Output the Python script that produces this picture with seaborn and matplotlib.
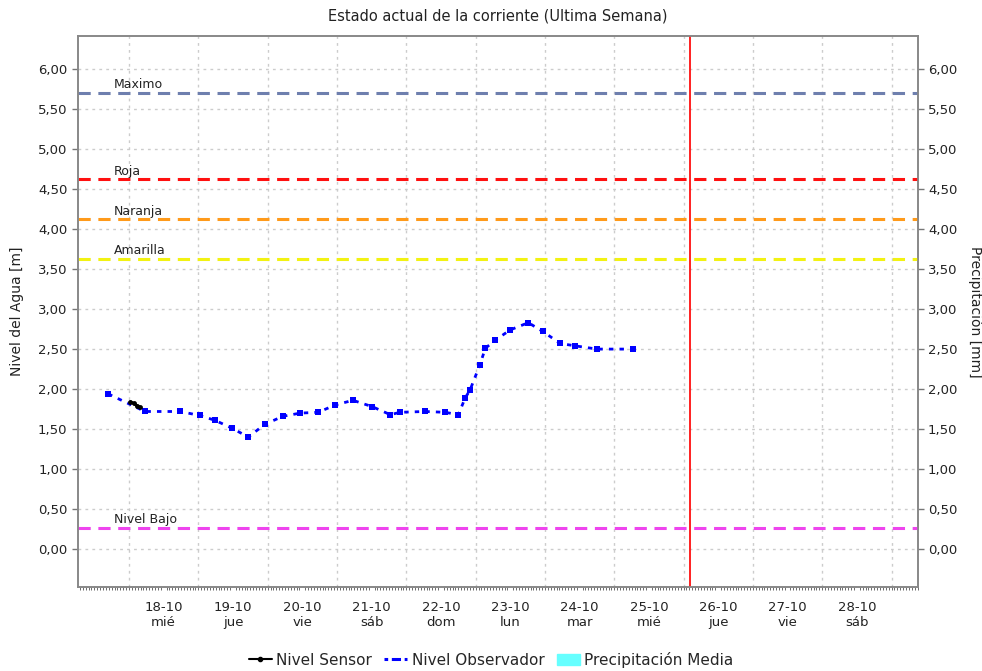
import pandas as pd
import numpy as np
import matplotlib
matplotlib.use("Agg")
import matplotlib.pyplot as plt
import matplotlib.dates as mdates
from matplotlib.lines import Line2D
from matplotlib.patches import Patch
from matplotlib.ticker import FuncFormatter, MultipleLocator
import seaborn as sns

# datos (tiempo en dias desde 18-10 00:00)
obs_days = [-0.30, 0.23, 0.74, 1.02, 1.24, 1.49, 1.72, 1.96, 2.22, 2.47, 2.73, 2.97,
            3.23, 3.51, 3.77, 3.91, 4.27, 4.56, 4.75, 4.85, 4.92, 5.06, 5.14, 5.28,
            5.50, 5.76, 5.97, 6.22, 6.44, 6.75, 7.27]
obs_nivel = [1.94, 1.72, 1.72, 1.67, 1.61, 1.51, 1.40, 1.56, 1.66, 1.70, 1.71, 1.80,
             1.86, 1.78, 1.68, 1.71, 1.72, 1.71, 1.68, 1.89, 1.99, 2.30, 2.51, 2.61,
             2.74, 2.83, 2.72, 2.57, 2.54, 2.50, 2.50]
sensor_days = [0.02, 0.07, 0.12, 0.16]
sensor_nivel = [1.84, 1.82, 1.79, 1.77]

umbrales = ["Maximo", "Roja", "Naranja", "Amarilla", "Nivel Bajo"]
umbral_val = [5.70, 4.62, 4.12, 3.63, 0.27]
umbral_col = ["#6e7fae", "#ff1010", "#ff9a1a", "#f2f212", "#ee44ee"]

dias_es = ["lun", "mar", "mié", "jue", "vie", "sáb", "dom"]

base = pd.Timestamp("2023-10-18")
df_obs = pd.DataFrame({"fecha": base + pd.to_timedelta(obs_days, unit="D"), "nivel": obs_nivel})
df_sen = pd.DataFrame({"fecha": base + pd.to_timedelta(sensor_days, unit="D"), "nivel": sensor_nivel})
ahora = pd.Timestamp("2023-10-26 02:15")

sns.set_theme(style="white")
plt.rcParams['font.family'] = ['DejaVu Sans']

fig = plt.figure(figsize=(9.82, 6.71), dpi=100)
ax = fig.add_axes([0.0794, 0.125, 0.855, 0.821])

# lineas de umbral
for nom, v, c in zip(umbrales, umbral_val, umbral_col):
    ax.axhline(v, color=c, lw=2.2, ls=(0, (4, 2.5)), zorder=3)

sns.lineplot(data=df_obs, x="fecha", y="nivel", ax=ax, color="#0000ff", lw=2,
             ls=(0, (1.6, 2.2)), marker="s", markersize=4, markeredgewidth=0, zorder=5)
sns.lineplot(data=df_sen, x="fecha", y="nivel", ax=ax, color="black", lw=2.2,
             marker="o", markersize=3.5, markeredgewidth=0, zorder=6)

ax.axvline(ahora, color="#ff2020", lw=1.4, zorder=4)

xmin = pd.Timestamp("2023-10-17 06:20")
xmax = pd.Timestamp("2023-10-29 09:00")
ax.set_xlim(xmin, xmax)
ax.set_ylim(-0.475, 6.41)

# grilla vertical a medianoche
for d in pd.date_range("2023-10-18", "2023-10-29", freq="D"):
    ax.axvline(d, color="#cccccc", lw=1, ls=(0, (2, 3)), zorder=1)
ax.yaxis.set_major_locator(MultipleLocator(0.5))
ax.grid(axis="y", color="#cccccc", lw=1, ls=(0, (2, 3)), zorder=1)
ax.grid(axis="x", visible=False)

# etiquetas del eje x al mediodia
mediodias = pd.date_range("2023-10-18 12:00", "2023-10-28 12:00", freq="D")
ax.set_xticks(mediodias)
ax.set_xticklabels([f"{d.day}-{d.month}\n{dias_es[d.dayofweek]}" for d in mediodias])
ax.xaxis.set_minor_locator(mdates.HourLocator())
ax.tick_params(axis="x", which="major", length=0, labelsize=9.5, pad=10, colors="#222222")
ax.tick_params(axis="x", which="minor", bottom=True, length=2, width=0.6, color="#555555")

fmt = FuncFormatter(lambda v, p: f"{v:.2f}".replace(".", ","))
ax.yaxis.set_major_formatter(fmt)
ax.tick_params(axis="y", left=True, length=4, width=1, color="#777777", labelsize=9.5,
               labelcolor="#222222")

for s in ax.spines.values():
    s.set_color("#888888")
    s.set_linewidth(1.2)

ax2 = ax.twinx()
ax2.set_ylim(ax.get_ylim())
ax2.yaxis.set_major_locator(MultipleLocator(0.5))
ax2.yaxis.set_major_formatter(fmt)
ax2.tick_params(axis="y", right=True, length=4, width=1, color="#777777", labelsize=9.5,
                labelcolor="#222222")
ax2.grid(False)
for s in ax2.spines.values():
    s.set_color("#888888")
    s.set_linewidth(1.2)
ax2.set_ylabel("Precipitación [mm]", rotation=-90, labelpad=18, fontsize=10, color="#222222")

# textos de umbral
for nom, v in zip(umbrales, umbral_val):
    ax.text(pd.Timestamp("2023-10-17 18:50"), v + 0.02, nom, fontsize=9, color="#222222",
            va="bottom", ha="left", zorder=7)

ax.set_xlabel("")
ax.set_ylabel("Nivel del Agua [m]", fontsize=10, labelpad=10, color="#222222")
ax.set_title("Estado actual de la corriente (Ultima Semana)", fontsize=10.5, pad=11,
             color="#222222")

handles = [Line2D([], [], color="black", lw=1.5, marker="o", markersize=3),
           Line2D([], [], color="#0000ff", lw=2.2, ls=(0, (1.2, 1.2, 3, 1.2))),
           Patch(color="#66ffff")]
fig.legend(handles, ["Nivel Sensor", "Nivel Observador", "Precipitación Media"],
           loc="center", bbox_to_anchor=(0.5, 0.017), ncol=3, frameon=False,
           fontsize=11, handlelength=1.5, handletextpad=0.3, columnspacing=0.8)

fig.savefig("out.png", dpi=100)
